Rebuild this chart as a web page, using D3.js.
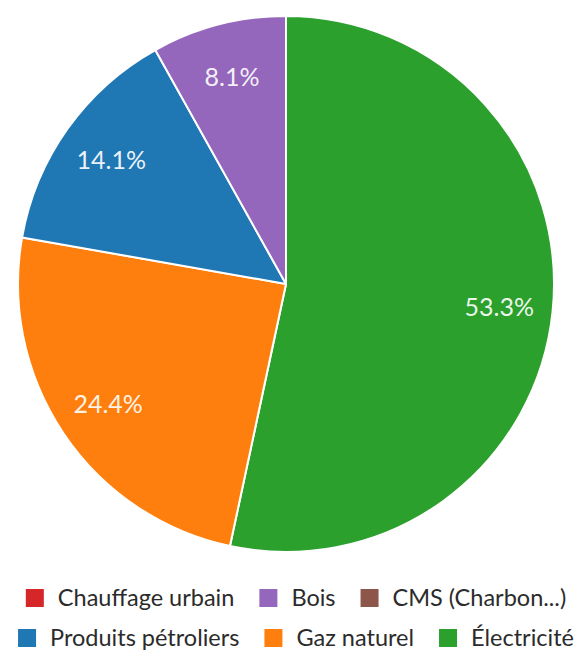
<!DOCTYPE html>
<html><head><meta charset="utf-8">
<script src="https://cdn.jsdelivr.net/npm/d3@7"></script>
<style>
html,body{margin:0;padding:0;background:#fff;}
svg{display:block;font-family:Lato,"Open Sans",sans-serif;}
</style></head>
<body>
<svg id="chart" width="582" height="652"></svg>
<script>
// Data (legend order)
const categories = ["Chauffage urbain","Bois","CMS (Charbon...)","Produits pétroliers","Gaz naturel","Électricité"];
const values = [0, 8.1, 0, 14.1, 24.4, 53.3];
const colors = ["#d62728","#9467bd","#8c564b","#1f77b4","#ff7f0e","#2ca02c"];
const legendRows = [[0,1,2],[3,4,5]];

const svg = d3.select("#chart");
const cx = 286, cy = 284, R = 268;

const data = categories.map((c,i)=>({name:c, value:values[i], color:colors[i]})).reverse();
const pie = d3.pie().sort(null).value(d=>d.value);
const arcs = pie(data);
const arc = d3.arc().innerRadius(0).outerRadius(R);
const labelArc = d3.arc().innerRadius(R*0.8).outerRadius(R*0.8);

const g = svg.append("g").attr("transform",`translate(${cx},${cy})`);
g.selectAll("path").data(arcs.filter(a=>a.data.value>0)).join("path")
  .attr("d",arc).attr("fill",d=>d.data.color)
  .attr("stroke","#fff").attr("stroke-width",2).attr("stroke-linejoin","round");

g.selectAll("text").data(arcs.filter(a=>a.data.value>0)).join("text")
  .attr("transform",d=>`translate(${labelArc.centroid(d)})`)
  .attr("text-anchor","middle").attr("dy","0.36em")
  .attr("fill","#fff").attr("fill-opacity",0.92)
  .style("font-size","25px")
  .text(d=>d3.format(".1f")(d.data.value)+"%");

// Legend
const rowY = [598, 638];
const sq = 18, gapText = 14, gapItem = 25, centerX = 296;
legendRows.forEach((row,ri)=>{
  const lg = svg.append("g");
  const items = row.map(i=>{
    const it = lg.append("g");
    it.append("rect").attr("width",sq).attr("height",sq).attr("y",-sq/2).attr("fill",colors[i]);
    const t = it.append("text").attr("x",sq+gapText).attr("dy","0.36em")
      .attr("fill","#2b2b2b").style("font-size","23.5px").text(categories[i]);
    return {it, w: sq+gapText+t.node().getComputedTextLength()};
  });
  const total = d3.sum(items,d=>d.w)+gapItem*(items.length-1);
  let x = centerX-total/2;
  items.forEach(d=>{ d.it.attr("transform",`translate(${x},${rowY[ri]})`); x += d.w+gapItem; });
});
</script>
</body></html>
